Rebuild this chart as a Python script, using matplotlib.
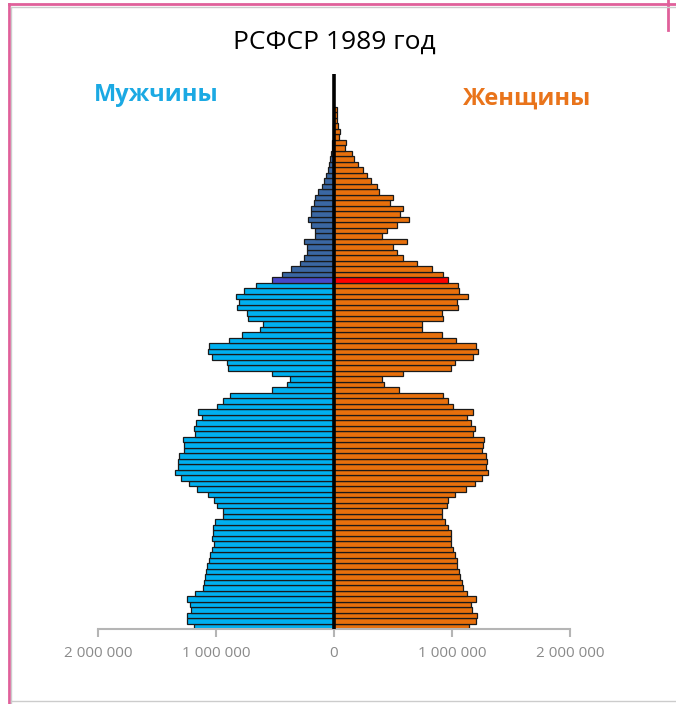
import matplotlib
matplotlib.use("Agg")
import matplotlib.pyplot as plt
from matplotlib.lines import Line2D

# ---- data (ages 0..94, population) ----
ages = list(range(95))
men = [1190000, 1250000, 1250000, 1210000, 1220000, 1245000, 1180000, 1113000, 1105000, 1095000,
       1085000, 1079000, 1060000, 1050000, 1030000, 1020000, 1036000, 1028000, 1023000, 1008000,
       938000, 938000, 990000, 1015000, 1065000, 1160000, 1230000, 1300000, 1345000, 1326000,
       1322000, 1315000, 1274000, 1271000, 1282000, 1178000, 1186000, 1169000, 1121000, 1155000,
       994000, 943000, 884000, 524000, 401000, 370000, 528000, 895000, 909000, 1037000,
       1065000, 1059000, 887000, 782000, 627000, 604000, 726000, 740000, 819000, 805000,
       831000, 763000, 661000, 528000, 440000, 362000, 288000, 254000, 226000, 225000,
       254000, 161000, 165000, 194000, 222000, 197000, 193000, 169000, 160000, 135000,
       105000, 88000, 68000, 54000, 42000, 34000, 28000, 20000, 16000, 10000,
       8000, 5000, 4000, 3000, 2000]
women = [1140000, 1200000, 1215000, 1170000, 1165000, 1200000, 1124000, 1090000, 1082000, 1068000,
         1062000, 1045000, 1040000, 1025000, 1011000, 995000, 990000, 990000, 963000, 941000,
         912000, 912000, 955000, 969000, 1025000, 1119000, 1195000, 1251000, 1308000, 1288000,
         1299000, 1288000, 1257000, 1266000, 1274000, 1175000, 1195000, 1158000, 1124000, 1181000,
         1011000, 969000, 927000, 554000, 427000, 404000, 588000, 989000, 1025000, 1175000,
         1223000, 1203000, 1034000, 912000, 748000, 748000, 927000, 912000, 1054000, 1045000,
         1138000, 1059000, 1048000, 963000, 927000, 833000, 706000, 582000, 531000, 503000,
         621000, 405000, 446000, 537000, 638000, 559000, 588000, 475000, 497000, 384000,
         362000, 314000, 282000, 243000, 201000, 169000, 150000, 93000, 99000, 45000,
         51000, 31000, 28000, 23000, 23000]
highlight_age = 63
tick_values = [-2000000, -1000000, 0, 1000000, 2000000]
tick_labels = ["2 000 000", "1 000 000", "0", "1 000 000", "2 000 000"]
title = "РСФСР 1989 год"
label_men = "Мужчины"
label_women = "Женщины"

# ---- style ----
plt.rcParams['font.family'] = ['Open Sans', 'DejaVu Sans']
C_MEN = "#00B0F0"
C_MEN_OLD = "#3A67A3"
C_MEN_HL = "#4848C8"
C_WOMEN = "#E8700C"
C_WOMEN_HL = "#FF0000"

men_colors = [C_MEN_HL if a == highlight_age else (C_MEN_OLD if a > highlight_age else C_MEN) for a in ages]
women_colors = [C_WOMEN_HL if a == highlight_age else C_WOMEN for a in ages]

W, H = 676, 704
fig = plt.figure(figsize=(W / 100, H / 100), dpi=100)
ax = fig.add_axes([98 / W, 1 - 629 / H, 472 / W, 555.5 / H])

ax.barh(ages, [-v for v in men], height=1.0, color=men_colors, edgecolor="#1a1a1a", linewidth=0.9)
ax.barh(ages, women, height=1.0, color=women_colors, edgecolor="#1a1a1a", linewidth=0.9)
ax.axvline(0, color="black", lw=2.6, zorder=5)

ax.set_xlim(-2000000, 2000000)
ax.set_ylim(-0.5, 100.5)
for s in ("left", "right", "top"):
    ax.spines[s].set_visible(False)
ax.spines["bottom"].set_color("#b5b5b5")
ax.spines["bottom"].set_linewidth(1.5)
ax.set_yticks([])
ax.set_xticks(tick_values)
ax.set_xticklabels(tick_labels)
ax.tick_params(axis="x", direction="out", length=6, width=1.5, color="#b5b5b5",
               labelcolor="#8a8a8a", labelsize=11, pad=6)

fig.text(334 / W, 1 - 42 / H, title, ha="center", va="center", fontsize=19, color="black")
fig.text(156 / W, 1 - 95 / H, label_men, ha="center", va="center", fontsize=17,
         fontweight="bold", color="#1BA9E3")
fig.text(527 / W, 1 - 99 / H, label_women, ha="center", va="center", fontsize=17,
         fontweight="bold", color="#E9741B")

# screenshot frame
fig.add_artist(Line2D([9 / W, 1], [1 - 4 / H, 1 - 4 / H], color="#E0609A", lw=2, transform=fig.transFigure))
fig.add_artist(Line2D([9 / W, 9 / W], [1 - 4 / H, 0], color="#E0609A", lw=2, transform=fig.transFigure))
fig.add_artist(Line2D([668 / W, 668 / W], [1, 1 - 30 / H], color="#E0609A", lw=2, transform=fig.transFigure))
fig.add_artist(Line2D([11 / W, 1], [1 - 7 / H, 1 - 7 / H], color="#cccccc", lw=1, transform=fig.transFigure))
fig.add_artist(Line2D([11 / W, 11 / W], [1 - 7 / H, 0], color="#cccccc", lw=1, transform=fig.transFigure))
fig.add_artist(Line2D([11 / W, 1], [1 - 701 / H, 1 - 701 / H], color="#cccccc", lw=1, transform=fig.transFigure))

fig.savefig("out.png", dpi=100)
